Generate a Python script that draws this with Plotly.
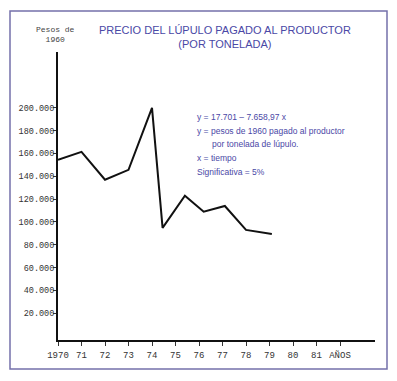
import plotly.graph_objects as go

# Data
years = [1970, 1971, 1972, 1973, 1974, 1974.45, 1975.4, 1976.2, 1977.1, 1978, 1979.1]
precio = [154500, 161500, 137000, 145700, 200000, 94800, 123000, 109000, 114000, 93000, 89500]

x_tick_vals = [1970, 1971, 1972, 1973, 1974, 1975, 1976, 1977, 1978, 1979, 1980, 1981, 1982]
x_tick_text = ["1970", "71", "72", "73", "74", "75", "76", "77", "78", "79", "80", "81", "AÑOS"]
y_tick_vals = [20000, 40000, 60000, 80000, 100000, 120000, 140000, 160000, 180000, 200000]
y_tick_text = ["20.000", "40.000", "60.000", "80.000", "100.000", "120.000",
               "140.000", "160.000", "180.000", "200.000"]

O = 8  # page body offset
W, H = 397 - O, 381 - O
L, R, T, B = 58 - O, 375 - O, 52 - O, 340 - O
PW, PH = R - L, B - T


def px(x):
    return (x - O - L) / PW


def py(y):
    return (B - (y - O)) / PH


TXT = "#4a48a6"
MONO = "Liberation Mono"

fig = go.Figure()
fig.add_trace(go.Scatter(x=years, y=precio, mode="lines",
                         line=dict(color="#111111", width=2), hoverinfo="skip",
                         showlegend=False))

fig.update_layout(
    width=W, height=H,
    margin=dict(l=L, r=W - R, t=T, b=H - B),
    paper_bgcolor="white", plot_bgcolor="white",
    xaxis=dict(range=[1970, 1970 + PW / 23.5], tickvals=x_tick_vals, ticktext=x_tick_text,
               showgrid=False, zeroline=False, showline=True, linecolor="#111111",
               linewidth=2, ticks="outside", ticklen=4, tickcolor="#333333",
               ticklabelstandoff=1,
               tickfont=dict(family=MONO, size=9, color="#333333")),
    yaxis=dict(range=[-3500, 249000], tickvals=y_tick_vals, ticktext=y_tick_text,
               showgrid=False, zeroline=False, showline=True, linecolor="#111111",
               linewidth=2, ticks="outside", ticklen=3, tickcolor="#333333",
               ticklabelstandoff=-3,
               tickfont=dict(family=MONO, size=8.5, color="#333333")),
)

# Border frame
fig.add_shape(type="rect", xref="paper", yref="paper",
              x0=px(10), x1=px(387), y0=py(369), y1=py(11),
              line=dict(color="#7470aa", width=1.5), fillcolor="rgba(0,0,0,0)")

# Title
fig.add_annotation(xref="paper", yref="paper", x=px(225), y=py(37),
                   xanchor="center", yanchor="middle", showarrow=False,
                   text="PRECIO DEL LÚPULO PAGADO AL PRODUCTOR<br>(POR TONELADA)",
                   font=dict(family="Liberation Sans", size=11, color=TXT), align="center")

# Y axis caption
fig.add_annotation(xref="paper", yref="paper", x=px(55), y=py(34),
                   xanchor="center", yanchor="middle", showarrow=False,
                   text="Pesos de<br>1960", align="center",
                   font=dict(family=MONO, size=8, color="#444444"))

# Regression text
lines = [
    (195, 117, "y = 17.701 – 7.658,97 x"),
    (195, 131, "y = pesos de 1960 pagado al productor"),
    (210, 144, "por tonelada de lúpulo."),
    (195, 158, "x = tiempo"),
    (195, 172, "Significativa = 5%"),
]
for xx, yy, t in lines:
    fig.add_annotation(xref="paper", yref="paper", x=px(xx), y=py(yy),
                       xanchor="left", yanchor="middle", showarrow=False, text=t,
                       font=dict(family="Liberation Sans", size=8.5, color=TXT))

fig.write_html("out.html")
